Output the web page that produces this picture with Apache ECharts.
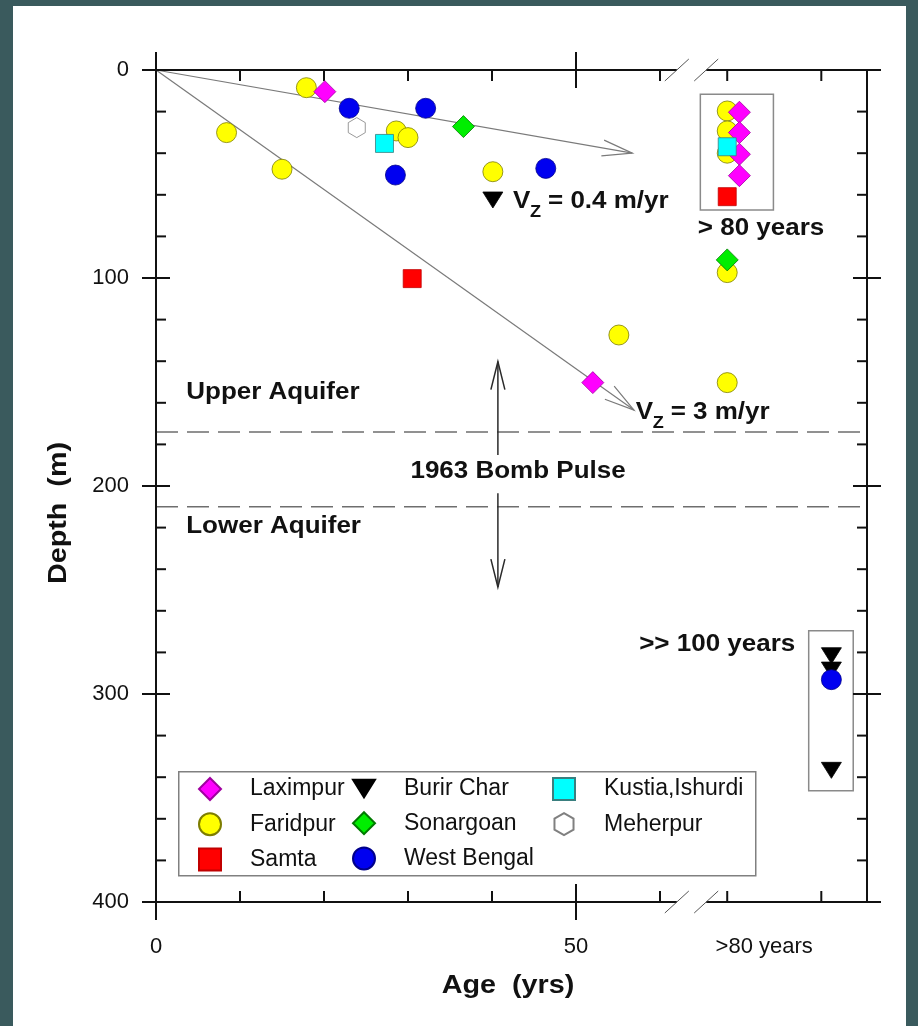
<!DOCTYPE html>
<html>
<head>
<meta charset="utf-8">
<script src="https://cdn.jsdelivr.net/npm/echarts@6/dist/echarts.min.js"></script>
<style>
  html, body { margin: 0; padding: 0; width: 918px; height: 1026px; overflow: hidden; background: #3a5a5d; }
  #panel { position: absolute; left: 13px; top: 6px; width: 893px; height: 1020px; background: #ffffff; }
  #chart { position: absolute; left: 0; top: 0; width: 918px; height: 1026px; }
</style>
</head>
<body>
<div id="panel"></div>
<div id="chart"></div>
<script>
// ---- Groundwater age (yr) and sampling depth (m), by site ----
const laximpurAge   = [20.1, 52.0];
const laximpurDepth = [10.4, 150.3];
const faridpurAge   = [17.9, 8.4, 15.0, 28.6, 30.0, 40.1, 55.1];
const faridpurDepth = [8.5, 30.1, 47.7, 29.3, 32.5, 48.9, 127.4];
const samtaAge      = [30.5];
const samtaDepth    = [100.3];
const burirCharAge  = [40.1];
const burirCharDepth = [62.5];
const sonargoanAge  = [36.6];
const sonargoanDepth = [27.2];
const westBengalAge = [23.0, 32.1, 28.5, 46.4];
const westBengalDepth = [18.4, 18.4, 50.5, 47.3];
const kustiaAge     = [27.2];
const kustiaDepth   = [35.3];
const meherpurAge   = [23.9];
const meherpurDepth = [27.7];

// Wells dated only as "> 80 years" (depth, m)
const laximpurOldDepth = [20.3, 30.1, 40.5, 50.8];
const faridpurOldDepth = [19.7, 29.3, 40.0, 97.4, 150.3];
const samtaOldDepth    = [60.9];
const sonargoanOldDepth = [91.3];
const kustiaOldDepth   = [36.9];

// Wells dated as ">> 100 years" (depth, m)
const burirCharVeryOldDepth  = [281.6, 288.5, 336.7];
const westBengalVeryOldDepth = [293.1];

// Axis labels
const ageTickLabels = ['0', '50', '>80 years'];
const depthTickStep = 100;

// Lines of constant vertical velocity, drawn from the origin (end: age, depth)
const velocityLabels = ['0.4 m/yr', '3 m/yr'];
const velocityEnds = [[56.7, 40.0], [56.9, 163.5]];

// Depth band of the 1963 bomb pulse (m)
const bombPulseDepths = [174, 210];

// ---- Axis geometry (the age axis is broken after 60 yr) ----
const AGE_MAX = 84.64;
const DEPTH_MAX = 400;
const OLD_POS = 68;          // column holding the "> 80 years" wells
const VERY_OLD_POS = 80.4;   // column holding the ">> 100 years" wells
const SIDE_SHIFT = 1.45;     // Laximpur drawn beside Faridpur in the old column
const BREAK_FROM = 62.0, BREAK_TO = 65.5;
const AGE_LABEL_POS = [0, 50, OLD_POS];
const MAJOR_AGE_TICKS = [0, 50];
const MINOR_AGE_TICKS = [10, 20, 30, 40, 60, OLD_POS, 79.2];

const FONT = "'Liberation Sans', Arial, Helvetica, sans-serif";
const INK = '#111111';
const STRETCH = 1.13;  // the bold lettering is slightly wide

const pairs = (a, d) => a.map((v, i) => [v, d[i]]);
const column = (pos, d) => d.map(v => [pos, v]);

const TRI_DOWN = 'path://M0,0 L20,0 L10,16 Z';
const HEXAGON = 'path://M10,0 L18.66,5 L18.66,15 L10,20 L1.34,15 L1.34,5 Z';

const sites = [
  { name: 'Faridpur', symbol: 'circle', size: 20, color: '#ffff00', border: '#7d7d00',
    data: pairs(faridpurAge, faridpurDepth).concat(column(OLD_POS, faridpurOldDepth)) },
  { name: 'Burir Char', symbol: TRI_DOWN, size: [20, 16], color: '#000000', border: '#000000',
    data: pairs(burirCharAge, burirCharDepth).concat(column(VERY_OLD_POS, burirCharVeryOldDepth)) },
  { name: 'West Bengal', symbol: 'circle', size: 20, color: '#0000f0', border: '#00008a',
    data: pairs(westBengalAge, westBengalDepth).concat(column(VERY_OLD_POS, westBengalVeryOldDepth)) },
  { name: 'Samta', symbol: 'rect', size: 18, color: '#ff0000', border: '#c00000',
    data: pairs(samtaAge, samtaDepth).concat(column(OLD_POS, samtaOldDepth)) },
  { name: 'Laximpur', symbol: 'diamond', size: 22, color: '#ff00ff', border: '#a000a0',
    data: pairs(laximpurAge, laximpurDepth).concat(column(OLD_POS + SIDE_SHIFT, laximpurOldDepth)) },
  { name: 'Sonargoan', symbol: 'diamond', size: 22, color: '#00ee00', border: '#007a00',
    data: pairs(sonargoanAge, sonargoanDepth).concat(column(OLD_POS, sonargoanOldDepth)) },
  { name: 'Kustia,Ishurdi', symbol: 'rect', size: 18, color: '#00ffff', border: '#3a7f7f',
    data: pairs(kustiaAge, kustiaDepth).concat(column(OLD_POS, kustiaOldDepth)) },
  { name: 'Meherpur', symbol: HEXAGON, size: [17, 20], color: '#ffffff', border: '#808080',
    data: pairs(meherpurAge, meherpurDepth) }
];

const scatterSeries = sites.map(s => ({
  type: 'scatter', name: s.name, symbol: s.symbol, symbolSize: s.size,
  itemStyle: { color: s.color, borderColor: s.border, borderWidth: 0.8, opacity: 1 },
  data: s.data, z: 4
}));

// ---- Frame: axis lines, crossing major ticks, inward minor ticks, break marks ----
function renderFrame(params, api) {
  const c = (x, y) => api.coord([x, y]);
  const [xl, yt] = c(0, 0);
  const [xr, yb] = c(AGE_MAX, DEPTH_MAX);
  const gl = c(BREAK_FROM, 0)[0], gr = c(BREAK_TO, 0)[0];
  const kids = [];
  const seg = (x1, y1, x2, y2, w, col) => kids.push({
    type: 'line', shape: { x1, y1, x2, y2 },
    style: { stroke: col || INK, lineWidth: w || 2, lineCap: 'butt' }
  });
  seg(xl, yt, xl, yb);
  seg(xr, yt, xr, yb);
  [yt, yb].forEach(y => {
    seg(xl - 14, y, gl, y);
    seg(gr, y, xr + 14, y);
    [gl, gr].forEach(x => seg(x - 12, y + 11, x + 12, y - 11, 1, '#555'));
  });
  for (let d = 0; d <= DEPTH_MAX; d += 20) {
    const y = c(0, d)[1];
    if (d % depthTickStep === 0) {
      seg(xl - 14, y, xl + 14, y);
      seg(xr - 14, y, xr + 14, y);
    } else {
      seg(xl, y, xl + 10, y);
      seg(xr - 10, y, xr, y);
    }
  }
  MAJOR_AGE_TICKS.forEach(a => {
    const x = c(a, 0)[0];
    seg(x, yt - 18, x, yt + 18);
    seg(x, yb - 18, x, yb + 18);
  });
  MINOR_AGE_TICKS.forEach(a => {
    const x = c(a, 0)[0];
    seg(x, yt, x, yt + 11);
    seg(x, yb - 11, x, yb);
  });
  return { type: 'group', children: kids };
}

// ---- Arrow with an open head ----
function arrow(p0, p1, head, half, stroke, width) {
  const dx = p1[0] - p0[0], dy = p1[1] - p0[1];
  const L = Math.hypot(dx, dy), ux = dx / L, uy = dy / L;
  const bx = p1[0] - ux * head, by = p1[1] - uy * head;
  const style = { stroke, lineWidth: width, fill: null };
  return [
    { type: 'line', shape: { x1: p0[0], y1: p0[1], x2: p1[0], y2: p1[1] }, style },
    { type: 'polyline', shape: { points: [[bx - uy * half, by + ux * half], p1, [bx + uy * half, by - ux * half]] }, style }
  ];
}

function renderVelocity(params, api) {
  const p0 = api.coord([0, 0]);
  const p1 = api.coord([api.value(0), api.value(1)]);
  return { type: 'group', children: arrow(p0, p1, 30, 8, '#7a7a7a', 1.2) };
}

// Bomb-pulse marker: two arrows pointing away from the label
const bombArrows = [[40.7, 185.1, 40.7, 140.2], [40.7, 203.5, 40.7, 248.6]];
function renderBombArrow(params, api) {
  const p0 = api.coord([api.value(0), api.value(1)]);
  const p1 = api.coord([api.value(2), api.value(3)]);
  return { type: 'group', children: arrow(p0, p1, 28, 7, '#2a2a2a', 1.5) };
}

function renderBand(params, api) {
  const d = api.value(1);
  const p0 = api.coord([0, d]), p1 = api.coord([AGE_MAX, d]);
  return {
    type: 'line', shape: { x1: p0[0], y1: p0[1], x2: p1[0], y2: p1[1] },
    style: { stroke: '#6e6e6e', lineWidth: 1.5, lineDash: [22, 9] }
  };
}

// Boxes grouping the undated old wells (age span, depth span)
const groupBoxes = [[64.8, 11.7, 73.5, 67.3], [77.7, 269.6, 83.0, 346.5]];
function renderBox(params, api) {
  const p0 = api.coord([api.value(0), api.value(1)]);
  const p1 = api.coord([api.value(2), api.value(3)]);
  return {
    type: 'rect', shape: { x: p0[0], y: p0[1], width: p1[0] - p0[0], height: p1[1] - p0[1] },
    style: { stroke: '#8a8a8a', lineWidth: 1.5, fill: null }
  };
}

// ---- Bold annotations placed in (age, depth) ----
const notes = [
  { text: 'Upper Aquifer', at: [3.6, 155.3], align: 'left' },
  { text: 'Lower Aquifer', at: [3.6, 219.7], align: 'left' },
  { text: '1963 Bomb Pulse', at: [43.1, 193.3], align: 'center' },
  { text: '> 80 years', at: [64.5, 76.4], align: 'left' },
  { text: '>> 100 years', at: [76.1, 276.4], align: 'right' },
  { vz: 0, at: [42.5, 63.2] },
  { vz: 1, at: [57.1, 164.7] }
];

function boldText(x, y, text, size, align) {
  return {
    type: 'text', x, y, scaleX: STRETCH,
    style: {
      text, font: 'bold ' + size + 'px ' + FONT, fill: INK,
      align, textAlign: align, verticalAlign: 'middle', textVerticalAlign: 'middle'
    }
  };
}

function renderNote(params, api) {
  const n = notes[api.value(2)];
  const [x, y] = api.coord(n.at);
  if (n.vz === undefined) return boldText(x, y, n.text, 23, n.align);
  return {
    type: 'group', children: [
      boldText(x, y, 'V', 23, 'left'),
      boldText(x + 17, y + 11, 'Z', 16, 'left'),
      boldText(x + 35, y, '= ' + velocityLabels[n.vz], 23, 'left')
    ]
  };
}

const helperSeries = [
  { type: 'custom', name: 'frame', renderItem: renderFrame, data: [[0, 0]], clip: false, silent: true, z: 3 },
  { type: 'custom', name: 'band', renderItem: renderBand, data: bombPulseDepths.map(d => [0, d]), clip: false, silent: true, z: 1 },
  { type: 'custom', name: 'velocity', renderItem: renderVelocity, data: velocityEnds, clip: false, silent: true, z: 1 },
  { type: 'custom', name: 'bomb', renderItem: renderBombArrow, data: bombArrows, clip: false, silent: true, z: 1 },
  { type: 'custom', name: 'boxes', renderItem: renderBox, data: groupBoxes, clip: false, silent: true, z: 1 },
  { type: 'custom', name: 'notes', renderItem: renderNote, data: notes.map((n, i) => [n.at[0], n.at[1], i]), clip: false, silent: true, z: 5 }
];

// ---- Legend: three columns inside one box ----
const legendColumns = [
  { left: 193, names: ['Laximpur', 'Faridpur', 'Samta'] },
  { left: 347, names: ['Burir Char', 'Sonargoan', 'West Bengal'] },
  { left: 547, names: ['Kustia,Ishurdi', 'Meherpur'] }
];
const legends = legendColumns.map(col => ({
  data: col.names, orient: 'vertical', left: col.left, top: 772,
  itemWidth: 22, itemHeight: 22, itemGap: 11.2, selectedMode: false,
  textStyle: { fontFamily: FONT, fontSize: 23, color: INK, lineHeight: 22, padding: [0, 0, 0, 24] },
  z: 6
}));

const oldLabelPad = 74;

const option = {
  animation: false,
  backgroundColor: 'transparent',
  grid: { left: 156, top: 70, right: 51, bottom: 124 },
  xAxis: {
    type: 'value', min: 0, max: AGE_MAX,
    axisLine: { show: false }, axisTick: { show: false }, splitLine: { show: false },
    axisLabel: {
      customValues: AGE_LABEL_POS, margin: 34,
      fontFamily: FONT, fontSize: 22, color: INK,
      formatter: v => {
        const i = AGE_LABEL_POS.indexOf(v);
        const t = i >= 0 ? ageTickLabels[i] : '';
        return v === OLD_POS ? '{old|' + t + '}' : t;
      },
      rich: { old: { fontFamily: FONT, fontSize: 22, color: INK, padding: [0, 0, 0, oldLabelPad] } }
    }
  },
  yAxis: {
    type: 'value', inverse: true, min: 0, max: DEPTH_MAX, interval: depthTickStep,
    axisLine: { show: false }, axisTick: { show: false }, splitLine: { show: false },
    axisLabel: { margin: 27, fontFamily: FONT, fontSize: 22, color: INK }
  },
  legend: legends,
  graphic: [
    { type: 'rect', left: 178, top: 771, shape: { width: 577, height: 104 },
      style: { fill: '#ffffff', stroke: '#808080', lineWidth: 1.5 }, z: 0 },
    { type: 'text', x: 59, y: 513, rotation: Math.PI / 2, scaleX: 1.15,
      style: { text: 'Depth  (m)', font: 'bold 25px ' + FONT, fill: INK,
        align: 'center', textAlign: 'center', verticalAlign: 'middle', textVerticalAlign: 'middle' } },
    { type: 'text', x: 508, y: 986, scaleX: 1.15,
      style: { text: 'Age  (yrs)', font: 'bold 25px ' + FONT, fill: INK,
        align: 'center', textAlign: 'center', verticalAlign: 'middle', textVerticalAlign: 'middle' } }
  ],
  series: helperSeries.concat(scatterSeries)
};

const chart = echarts.init(document.getElementById('chart'));
chart.setOption(option);
</script>
</body>
</html>
